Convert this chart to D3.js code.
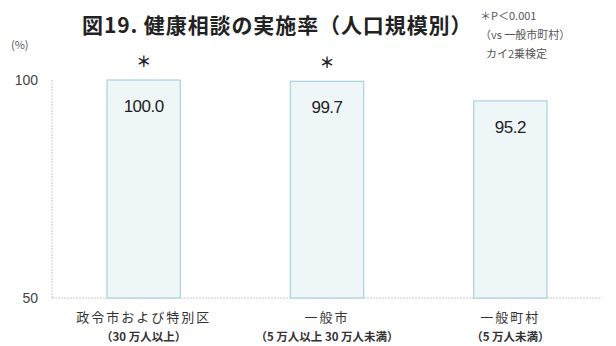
<!DOCTYPE html>
<html>
<head>
<meta charset="utf-8">
<script src="https://cdn.jsdelivr.net/npm/d3@7"></script>
<style>
  body { margin: 0; background: #fff; }
  svg { display: block; font-family: "Noto Sans CJK JP", "Noto Sans", sans-serif; }
</style>
</head>
<body>
<svg id="chart" width="616" height="346"></svg>
<script>
// Health consultation rate by population size
const categories = ["政令市および特別区", "一般市", "一般町村"];
const subLabels = ["（30 万人以上）", "（5 万人以上 30 万人未満）", "（5 万人未満）"];
const values = [100.0, 99.7, 95.2];
const significant = [true, true, false];
const yTicks = [50, 100];

const svg = d3.select("#chart");
const margin = { left: 52, right: 14, top: 80, bottom: 48 };
const W = 616, H = 346;

const x = d3.scaleBand().domain(categories).range([margin.left, W - margin.right]).paddingInner(0.6).paddingOuter(0.3);
const y = d3.scaleLinear().domain([50, 100]).range([H - margin.bottom, margin.top]);

// axes
svg.append("line")
  .attr("x1", margin.left).attr("x2", margin.left)
  .attr("y1", y(100)).attr("y2", y(50))
  .attr("stroke", "#c8c8c8").attr("stroke-width", 1).attr("stroke-dasharray", "2,1");
svg.append("line")
  .attr("x1", margin.left).attr("x2", W - margin.right)
  .attr("y1", y(50)).attr("y2", y(50))
  .attr("stroke", "#c8c8c8").attr("stroke-width", 1).attr("stroke-dasharray", "2,1");

const yAxis = d3.axisLeft(y).tickValues(yTicks).tickSize(0).tickPadding(14);
const gy = svg.append("g").attr("transform", `translate(${margin.left},0)`).call(yAxis);
gy.select(".domain").remove();
gy.selectAll("text").attr("font-size", 14).attr("fill", "#444").attr("font-family", "Liberation Sans, Arial, sans-serif");

svg.append("text").attr("x", 11).attr("y", 49).attr("font-size", 11).attr("fill", "#555").text("(%)");

// bars
svg.selectAll("rect.bar").data(values).join("rect")
  .attr("class", "bar")
  .attr("x", (d, i) => x(categories[i]))
  .attr("width", x.bandwidth())
  .attr("y", d => y(d))
  .attr("height", d => y(50) - y(d))
  .attr("fill", "#eef6f8")
  .attr("stroke", "#a9d3df")
  .attr("stroke-width", 1.2);

// value labels
svg.selectAll("text.val").data(values).join("text")
  .attr("class", "val")
  .attr("x", (d, i) => x(categories[i]) + x.bandwidth() / 2)
  .attr("y", d => y(d) + 32)
  .attr("text-anchor", "middle")
  .attr("font-size", 17)
  .attr("letter-spacing", -0.5)
  .attr("fill", "#222")
  .attr("font-family", "Liberation Sans, Arial, sans-serif")
  .text(d => d.toFixed(1));

// significance marks
svg.selectAll("text.sig").data(values).join("text")
  .attr("class", "sig")
  .attr("x", (d, i) => x(categories[i]) + x.bandwidth() / 2)
  .attr("y", d => y(d) - 13)
  .attr("text-anchor", "middle")
  .attr("font-size", 15)
  .attr("font-weight", "bold")
  .attr("fill", "#222")
  .text((d, i) => significant[i] ? "＊" : "");

// category labels
const cat = svg.selectAll("g.cat").data(categories).join("g")
  .attr("class", "cat")
  .attr("transform", d => `translate(${x(d) + x.bandwidth() / 2},0)`);
cat.append("text").attr("y", 322).attr("text-anchor", "middle")
  .attr("font-size", 13).attr("fill", "#333").attr("letter-spacing", 2).text(d => d);
cat.append("text").attr("y", 341).attr("text-anchor", "middle")
  .attr("font-size", 11.5).attr("font-weight", "bold").attr("fill", "#333")
  .text((d, i) => subLabels[i]);

// title
svg.append("text").attr("x", 82).attr("y", 33)
  .attr("font-size", 21).attr("font-weight", "bold").attr("fill", "#222")
  .attr("letter-spacing", 0.9)
  .text("図19. 健康相談の実施率（人口規模別）");

// note
const note = ["＊P＜0.001", "（vs 一般市町村）", "カイ2乗検定"];
svg.selectAll("text.note").data(note).join("text")
  .attr("class", "note")
  .attr("x", (d, i) => i === 2 ? 486 : 480)
  .attr("y", (d, i) => 20 + i * 19)
  .attr("font-size", 11)
  .attr("fill", "#555")
  .text(d => d);
</script>
</body>
</html>
